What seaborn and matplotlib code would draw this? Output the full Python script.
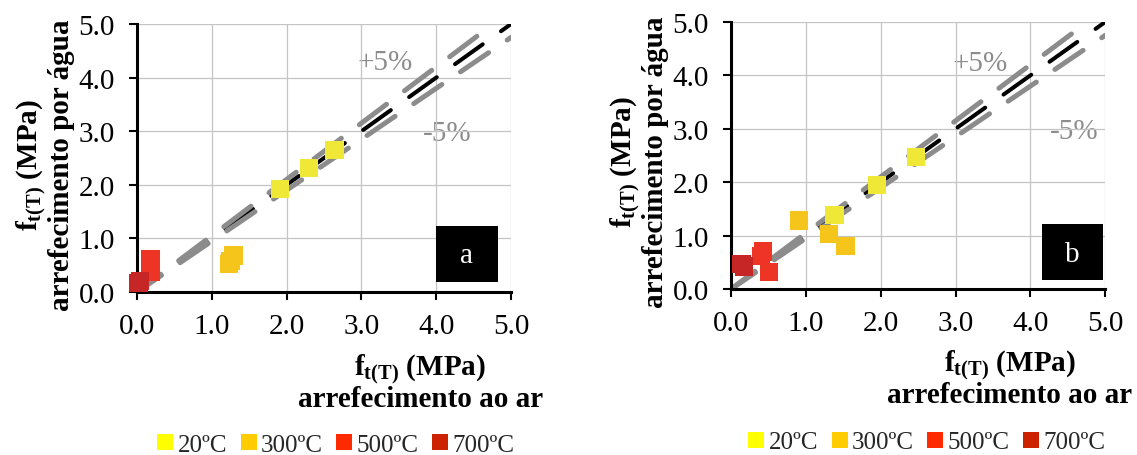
import numpy as np
import pandas as pd
import matplotlib.pyplot as plt
import matplotlib.ticker as mticker
from matplotlib.lines import Line2D
from matplotlib.patches import Rectangle
import seaborn as sns

# data (x = air cooling, y = water cooling, MPa)
temps = ["20ºC", "300ºC", "500ºC", "700ºC"]

a_temp = ["20ºC", "20ºC", "20ºC", "300ºC", "300ºC", "300ºC",
          "500ºC", "500ºC", "500ºC", "700ºC", "700ºC"]
a_ar = [1.91, 2.30, 2.64, 1.23, 1.25, 1.29, 0.18, 0.17, 0.19, 0.02, 0.04]
a_agua = [1.92, 2.31, 2.65, 0.52, 0.58, 0.68, 0.62, 0.45, 0.38, 0.17, 0.21]

b_temp = ["20ºC", "20ºC", "20ºC", "300ºC", "300ºC", "300ºC",
          "500ºC", "500ºC", "500ºC", "700ºC", "700ºC"]
b_ar = [2.47, 1.95, 1.38, 0.91, 1.31, 1.53, 0.43, 0.40, 0.51, 0.14, 0.17]
b_agua = [2.47, 1.95, 1.39, 1.28, 1.03, 0.81, 0.70, 0.62, 0.32, 0.47, 0.42]

marker_colors = ["#F0E837", "#F5C51C", "#EE3424", "#C62626"]
legend_colors = ["#FFFF00", "#FFCC00", "#FF2A00", "#CC2200"]

sns.set_theme(style="whitegrid")
plt.rcParams["font.family"] = ["Liberation Serif", "DejaVu Serif"]
plt.rcParams["mathtext.fontset"] = "custom"
plt.rcParams["mathtext.rm"] = "Liberation Serif"
plt.rcParams["mathtext.bf"] = "Liberation Serif:bold"
plt.rcParams["lines.scale_dashes"] = False

fig = plt.figure(figsize=(11.37, 4.56), dpi=100)
ax_a = fig.add_axes([0.1205, 0.3575, 0.329, 0.5877])
ax_b = fig.add_axes([0.6430, 0.3640, 0.329, 0.5855])

panels = [
    (ax_a, a_ar, a_agua, a_temp, "a", (3.32, 4.29), (4.15, 2.97), (4.0, 0.19), 0.757),
    (ax_b, b_ar, b_agua, b_temp, "b", (3.33, 4.24), (4.58, 2.95), (4.15, 0.16), 0.745),
]

lab = r"$\mathbf{f_{t(T)}}$ (MPa)"
dash = (3.2, (24.5, 16.2))

for ax, xs, ys, tt, letter, pos_p, pos_m, box_xy, xlab_x in panels:
    df = pd.DataFrame({"ar": xs, "agua": ys, "temp": tt})

    # reference lines: y = x (black) and +/-5% (grey, drawn on top)
    ax.axline((0, 0), slope=1.0, color="black", lw=2.9,
              linestyle=dash, dash_capstyle="round", zorder=2)
    for f in (1.05, 0.95):
        ax.axline((0, 0), slope=f, color="#8c8c8c", lw=3.6,
                  linestyle=dash, dash_capstyle="round", zorder=2.1)

    sns.scatterplot(data=df, x="ar", y="agua", hue="temp", hue_order=temps,
                    palette=marker_colors, marker="s", s=175, linewidth=0,
                    legend=False, clip_on=False, zorder=3, ax=ax)

    ax.set_xlim(0, 5)
    ax.set_ylim(0, 5)
    ax.xaxis.set_major_locator(mticker.MultipleLocator(1))
    ax.yaxis.set_major_locator(mticker.MultipleLocator(1))
    ax.xaxis.set_major_formatter(mticker.FormatStrFormatter("%.1f"))
    ax.yaxis.set_major_formatter(mticker.FormatStrFormatter("%.1f"))
    ax.grid(True, color="#c4c4c4", linewidth=0.9)
    for s in ("top", "right"):
        ax.spines[s].set_visible(False)
    for s in ("left", "bottom"):
        ax.spines[s].set_color("black")
        ax.spines[s].set_linewidth(2.2)
    ax.tick_params(axis="both", which="major", bottom=True, left=True,
                   direction="out", length=6, width=1.5, color="black",
                   labelsize=21, labelcolor="black")
    ax.tick_params(axis="x", pad=9)
    ax.tick_params(axis="y", pad=10)
    ax.set_xlabel("")
    ax.set_ylabel("")

    # axis titles (two lines each)
    ax.text(xlab_x, -0.306, lab, transform=ax.transAxes, ha="center",
            va="baseline", fontsize=21, fontweight="bold", color="black")
    ax.text(xlab_x, -0.425, "arrefecimento ao ar", transform=ax.transAxes,
            ha="center", va="baseline", fontsize=21, fontweight="bold",
            color="black")
    ax.text(-0.267, 0.478, lab, transform=ax.transAxes, ha="center",
            va="baseline", rotation=90, rotation_mode="anchor", fontsize=21,
            fontweight="bold", color="black")
    ax.text(-0.182, 0.478, "arrefecimento por água", transform=ax.transAxes,
            ha="center", va="baseline", rotation=90, rotation_mode="anchor",
            fontsize=21, fontweight="bold", color="black")

    ax.text(*pos_p, "+5%", ha="center", va="center", fontsize=21,
            color="#8c8c8c", zorder=0.4)
    ax.text(*pos_m, "-5%", ha="center", va="center", fontsize=21,
            color="#8c8c8c", zorder=0.4)

    # panel letter box
    ax.add_patch(Rectangle(box_xy, 0.82, 1.05, facecolor="black",
                           edgecolor="none", zorder=4))
    ax.text(box_xy[0] + 0.41, box_xy[1] + 0.5, letter, ha="center",
            va="center", fontsize=21, color="white", zorder=5)

    handles = [Line2D([], [], marker="s", linestyle="", markersize=12,
                      markerfacecolor=c, markeredgewidth=0) for c in legend_colors]
    leg_x = 0.2946 if letter == "a" else 0.8144
    leg_y = 0.022 if letter == "a" else 0.0285
    ax.legend(handles, temps, loc="center", bbox_to_anchor=(leg_x, leg_y),
              bbox_transform=fig.transFigure, ncol=4, frameon=False,
              fontsize=18, handlelength=0.8, handletextpad=0.1,
              columnspacing=0.45, borderpad=0, borderaxespad=0)

fig.savefig("out.png", dpi=100)
